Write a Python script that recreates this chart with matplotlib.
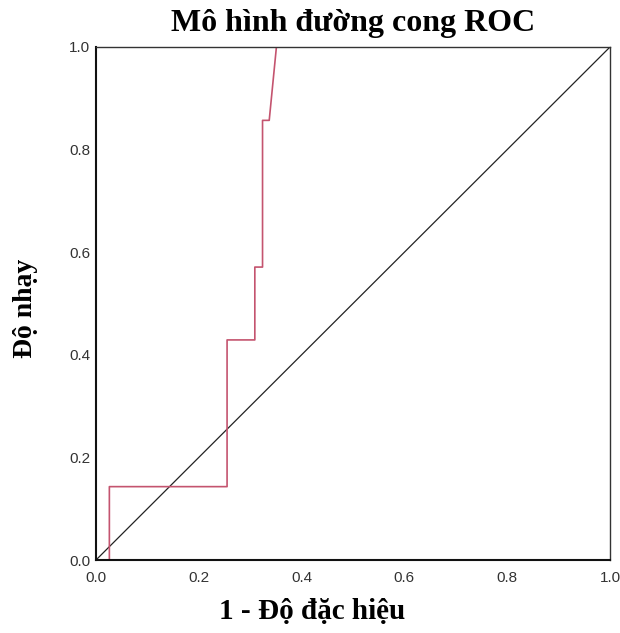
import matplotlib
matplotlib.use("Agg")
import matplotlib.pyplot as plt

# ROC curve points (1 - specificity, sensitivity)
fpr = [0.0, 0.026, 0.026, 0.255, 0.255, 0.309, 0.309, 0.324, 0.324, 0.337, 0.351, 1.0]
tpr = [0.0, 0.0, 0.143, 0.143, 0.429, 0.429, 0.571, 0.571, 0.857, 0.857, 1.0, 1.0]
ref_x = [0.0, 1.0]
ref_y = [0.0, 1.0]
ticks = [0.0, 0.2, 0.4, 0.6, 0.8, 1.0]
tick_labels = ["0.0", "0.2", "0.4", "0.6", "0.8", "1.0"]

fig = plt.figure(figsize=(6.2, 6.33), dpi=100)
ax = fig.add_axes([96/620, 73/633, 514/620, 513/633])

ax.plot(ref_x, ref_y, color="#222222", lw=0.9)
ax.plot(fpr, tpr, color="#C4546F", lw=1.2)

ax.set_xlim(0, 1)
ax.set_ylim(0, 1)
ax.set_xticks(ticks)
ax.set_xticklabels(tick_labels)
ax.set_yticks(ticks)
ax.set_yticklabels(tick_labels)
ax.tick_params(axis="x", length=0, pad=8, labelsize=11, labelcolor="#333333")
ax.tick_params(axis="y", length=0, pad=4, labelsize=11, labelcolor="#333333")
for lab in ax.get_xticklabels() + ax.get_yticklabels():
    lab.set_family("Liberation Sans")

for s in ["left", "bottom"]:
    ax.spines[s].set_linewidth(1.5)
    ax.spines[s].set_color("#111111")
for s in ["top", "right"]:
    ax.spines[s].set_linewidth(1.0)
    ax.spines[s].set_color("#333333")

serif = "Liberation Serif"
fig.text(353/620, 1 - 24/633, "Mô hình đường cong ROC", ha="center", va="center",
         fontsize=23, fontweight="bold", family=serif)
fig.text(312/620, 1 - 612/633, "1 - Độ đặc hiệu", ha="center", va="center",
         fontsize=21, fontweight="bold", family=serif)
fig.text(26/620, 1 - 308/633, "Độ nhạy", ha="center", va="center", rotation=90,
         fontsize=20, fontweight="bold", family=serif)

fig.savefig("out.png", dpi=100, facecolor="white")
